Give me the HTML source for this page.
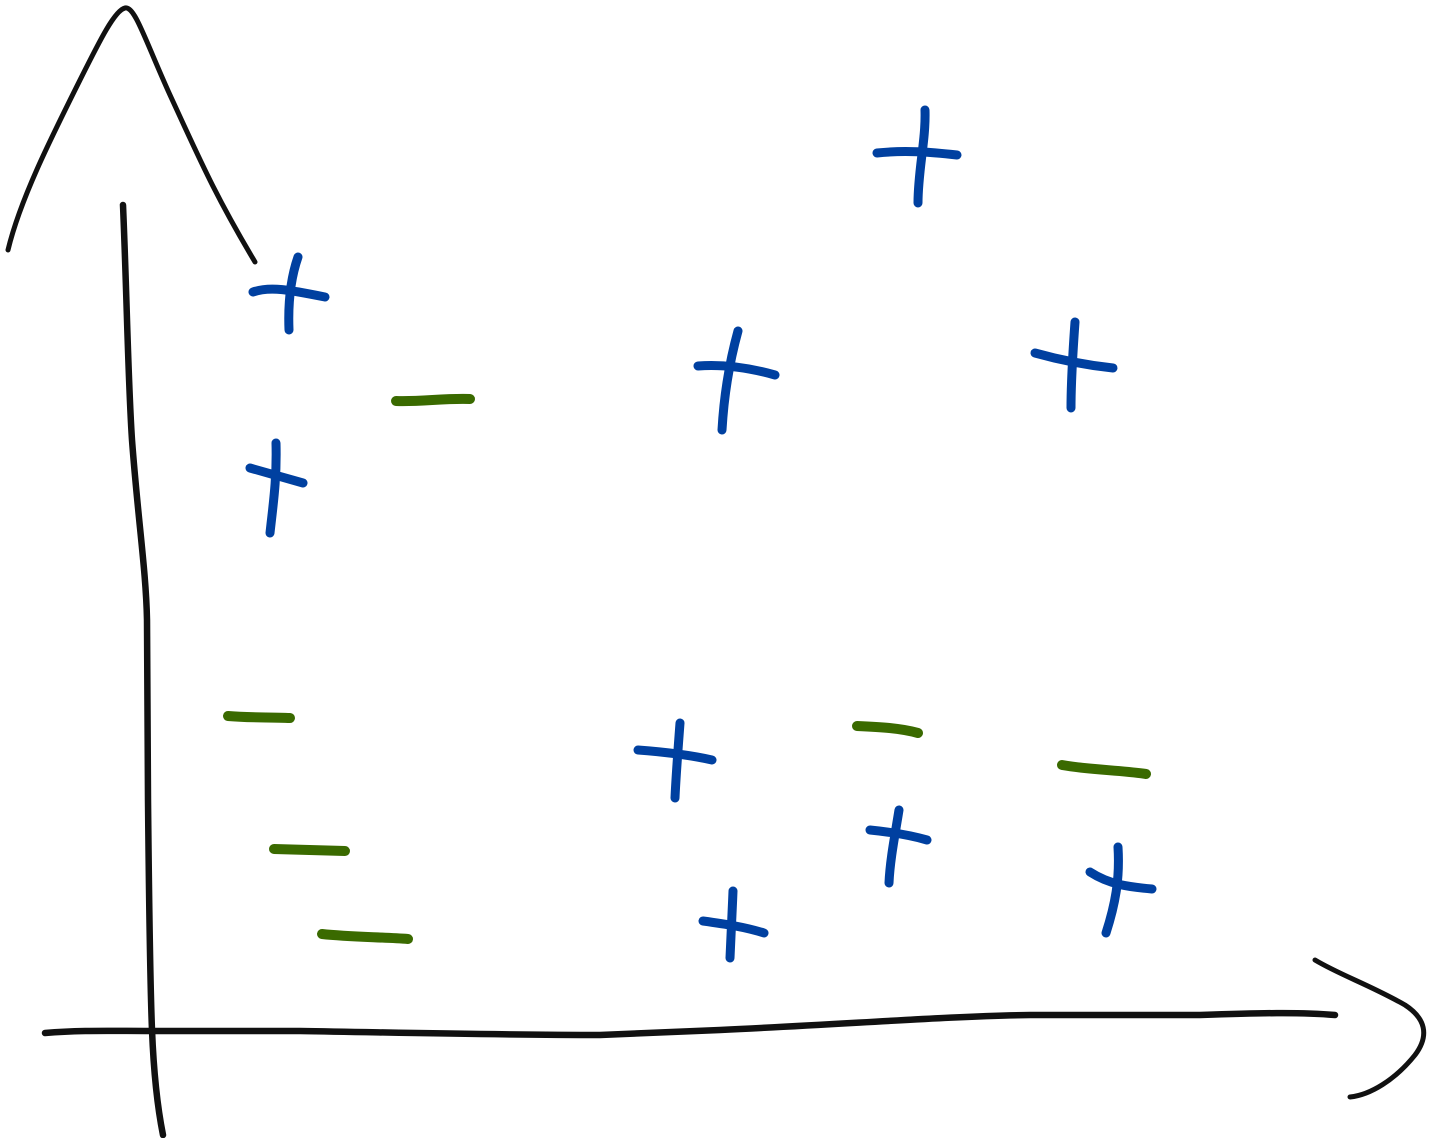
<!DOCTYPE html>
<html><head><meta charset="utf-8"><style>
html,body{margin:0;padding:0;background:#fff;}
svg{display:block;}
</style></head><body>
<svg width="1435" height="1138" viewBox="0 0 1435 1138" xmlns="http://www.w3.org/2000/svg">
<g fill="none" stroke="#111" stroke-linecap="round" stroke-linejoin="round">
<path d="M123,205 C127,300 128,380 132,440 C138,520 146,570 147,620 L148,800 C149,900 150,980 152,1030 C154,1080 158,1110 163,1135" stroke-width="6.5"/>
<path d="M8,250 C20,200 50,140 80,80 C100,40 115,10 125,8 C135,6 145,40 170,95 C200,160 215,195 255,262" stroke-width="5"/>
<path d="M45,1033 C80,1030 110,1031 150,1031 L300,1031 C420,1033 500,1035 600,1035 L720,1030 C850,1024 950,1016 1030,1015 L1200,1015 C1260,1013 1300,1012 1335,1015" stroke-width="6.5"/>
<path d="M1315,960 C1340,975 1370,985 1405,1005 C1425,1018 1430,1035 1415,1055 C1395,1080 1370,1095 1350,1097" stroke-width="5"/>
</g>
<g fill="none" stroke="#0040a0" stroke-width="9" stroke-linecap="round">
<path d="M253,292 C270,286 290,290 325,297"/><path d="M298,257 C290,280 288,305 289,330"/>
<path d="M250,468 L303,483"/><path d="M276,443 C277,480 273,505 270,533"/>
<path d="M698,366 C725,364 750,368 775,375"/><path d="M738,331 C730,360 724,395 722,430"/>
<path d="M877,153 C905,150 930,152 957,155"/><path d="M925,110 C926,140 918,170 918,203"/>
<path d="M1035,353 C1060,360 1085,365 1113,368"/><path d="M1075,322 C1073,350 1071,380 1071,408"/>
<path d="M638,750 C665,752 690,755 712,760"/><path d="M680,723 C678,750 676,775 675,798"/>
<path d="M870,830 C890,832 910,835 927,840"/><path d="M899,810 C895,835 890,860 889,883"/>
<path d="M703,921 C725,924 745,927 764,933"/><path d="M733,891 C732,915 731,940 730,958"/>
<path d="M1090,872 C1110,885 1130,887 1152,889"/><path d="M1118,847 C1120,880 1115,905 1106,933"/>
</g>
<g fill="none" stroke="#3a6a00" stroke-width="10" stroke-linecap="round">
<path d="M396,401 C420,402 445,398 470,399"/>
<path d="M228,716 C250,718 270,717 290,718"/>
<path d="M857,726 C880,727 900,728 918,733"/>
<path d="M1062,765 C1090,770 1120,770 1146,774"/>
<path d="M274,849 L345,851"/>
<path d="M322,934 C350,937 380,937 408,939"/>
</g>
</svg>
</body></html>
